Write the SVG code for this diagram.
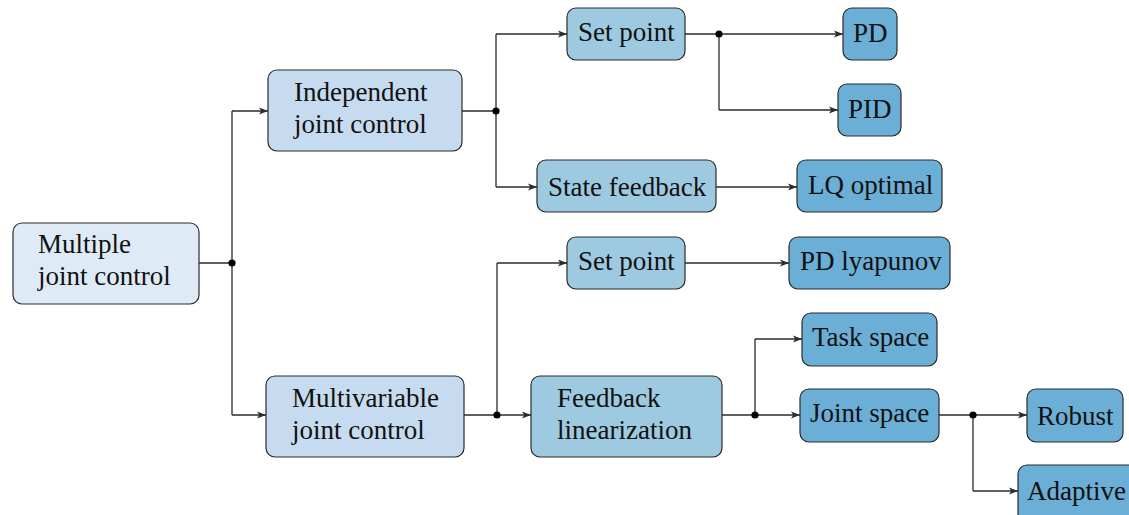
<svg xmlns="http://www.w3.org/2000/svg" width="1129" height="515" viewBox="0 0 1129 515">
<defs>
<style>
.n rect{stroke:#2b2b2b;stroke-width:1.2}
.l0{fill:#deebf7}.l1{fill:#c6dbef}.l2{fill:#9ecae1}.l3{fill:#6baed6}
text{font-family:"Liberation Serif","Times New Roman",serif;font-size:27px;fill:#111}
.c path{fill:none;stroke:#2b2b2b;stroke-width:1.3}
.c circle{fill:#000}
</style>
<marker id="a" viewBox="0 0 10 10" refX="10" refY="5" markerWidth="9" markerHeight="9" markerUnits="userSpaceOnUse" orient="auto">
<path d="M0,1 L10,5 L0,9 L2.5,5 Z" fill="#2b2b2b"/>
</marker>
</defs>
<rect width="1129" height="515" fill="#fff"/>
<g class="c">
<path d="M199,263 H232 M232,111 V415"/>
<path d="M232,111 H268" marker-end="url(#a)"/>
<path d="M232,415 H266" marker-end="url(#a)"/>
<circle cx="232" cy="263" r="3.6"/>
<path d="M462,111 H496 M496,34 V187"/>
<path d="M496,34 H567" marker-end="url(#a)"/>
<path d="M496,187 H537" marker-end="url(#a)"/>
<circle cx="496" cy="111" r="3.6"/>
<path d="M685,34 H719 V110"/>
<path d="M719,34 H843" marker-end="url(#a)"/>
<path d="M719,110 H838" marker-end="url(#a)"/>
<circle cx="719" cy="34" r="3.6"/>
<path d="M716,187 H797" marker-end="url(#a)"/>
<path d="M464,415 H497 M497,263 V415"/>
<path d="M497,263 H567" marker-end="url(#a)"/>
<path d="M497,415 H531" marker-end="url(#a)"/>
<circle cx="497" cy="415" r="3.6"/>
<path d="M685,263 H789" marker-end="url(#a)"/>
<path d="M722,415 H755 M755,339 V415"/>
<path d="M755,339 H802" marker-end="url(#a)"/>
<path d="M755,415 H800" marker-end="url(#a)"/>
<circle cx="755" cy="415" r="3.6"/>
<path d="M939,415 H973 V491"/>
<path d="M973,415 H1027" marker-end="url(#a)"/>
<path d="M973,491 H1018" marker-end="url(#a)"/>
<circle cx="973" cy="415" r="3.6"/>
</g>
<g id="multiple" class="n"><rect class="l0" x="13" y="223" width="186" height="81" rx="9"/><text x="38" y="253">Multiple</text><text x="38" y="285">joint control</text></g>
<g id="independent" class="n"><rect class="l1" x="268" y="70" width="194" height="81" rx="9"/><text x="294" y="101">Independent</text><text x="294" y="133">joint control</text></g>
<g id="multivariable" class="n"><rect class="l1" x="266" y="376" width="198" height="81" rx="9"/><text x="292" y="407">Multivariable</text><text x="292" y="439">joint control</text></g>
<g id="setpoint1" class="n"><rect class="l2" x="567" y="8" width="118" height="52" rx="9"/><text x="578" y="41">Set point</text></g>
<g id="statefeedback" class="n"><rect class="l2" x="537" y="160" width="179" height="52" rx="9"/><text x="548" y="196">State feedback</text></g>
<g id="setpoint2" class="n"><rect class="l2" x="567" y="237" width="118" height="52" rx="9"/><text x="578" y="270">Set point</text></g>
<g id="feedbacklin" class="n"><rect class="l2" x="531" y="376" width="191" height="81" rx="9"/><text x="557" y="407">Feedback</text><text x="557" y="439">linearization</text></g>
<g id="pd" class="n"><rect class="l3" x="843" y="8" width="54" height="52" rx="9"/><text x="853" y="42">PD</text></g>
<g id="pid" class="n"><rect class="l3" x="838" y="84" width="63" height="52" rx="9"/><text x="848" y="118">PID</text></g>
<g id="lq" class="n"><rect class="l3" x="797" y="160" width="145" height="52" rx="9"/><text x="808" y="194">LQ optimal</text></g>
<g id="pdlyap" class="n"><rect class="l3" x="789" y="237" width="161" height="52" rx="9"/><text x="800" y="270">PD lyapunov</text></g>
<g id="task" class="n"><rect class="l3" x="802" y="313" width="135" height="53" rx="9"/><text x="812" y="346">Task space</text></g>
<g id="joint" class="n"><rect class="l3" x="800" y="389" width="139" height="53" rx="9"/><text x="810" y="422">Joint space</text></g>
<g id="robust" class="n"><rect class="l3" x="1027" y="389" width="96" height="53" rx="9"/><text x="1037" y="425">Robust</text></g>
<g id="adaptive" class="n"><rect class="l3" x="1018" y="465" width="120" height="60" rx="9"/><text x="1027" y="500">Adaptive</text></g>
</svg>
